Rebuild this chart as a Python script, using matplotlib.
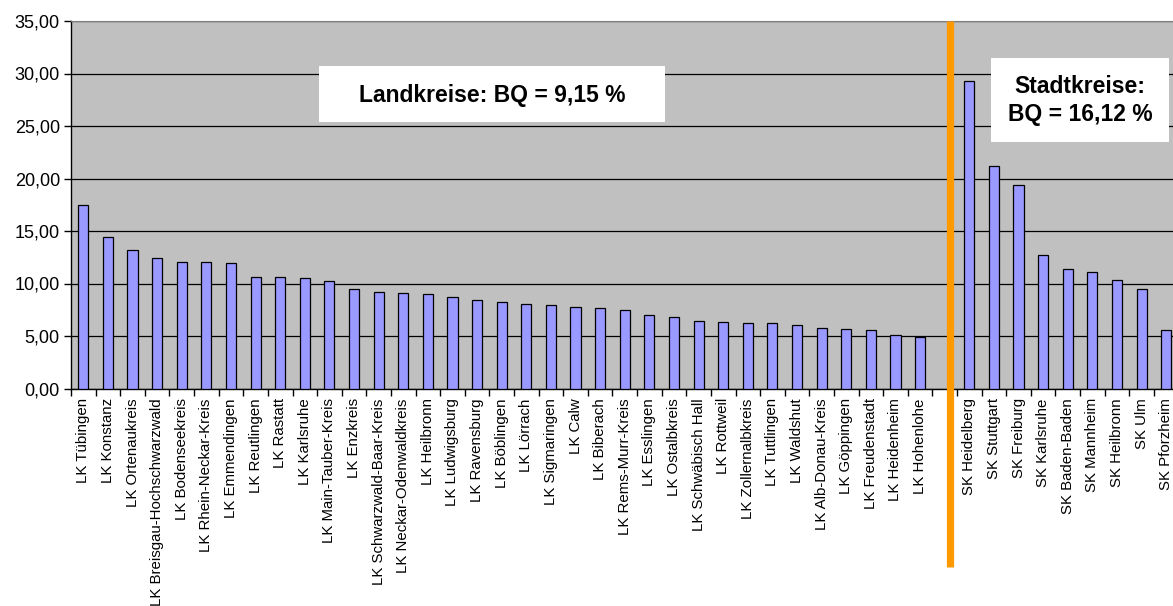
import numpy as np
import matplotlib
matplotlib.use("Agg")
from matplotlib import pyplot as plt
from matplotlib.patches import Rectangle
from matplotlib.ticker import FuncFormatter, FixedLocator

plt.rcParams['font.family'] = ['Liberation Sans', 'DejaVu Sans']

# Landkreise (LK) and Stadtkreise (SK), BQ in %
lk_names = ['LK Tübingen', 'LK Konstanz', 'LK Ortenaukreis', 'LK Breisgau-Hochschwarzwald',
            'LK Bodenseekreis', 'LK Rhein-Neckar-Kreis', 'LK Emmendingen', 'LK Reutlingen',
            'LK Rastatt', 'LK Karlsruhe', 'LK Main-Tauber-Kreis', 'LK Enzkreis',
            'LK Schwarzwald-Baar-Kreis', 'LK Neckar-Odenwaldkreis', 'LK Heilbronn',
            'LK Ludwigsburg', 'LK Ravensburg', 'LK Böblingen', 'LK Lörrach', 'LK Sigmaringen',
            'LK Calw', 'LK Biberach', 'LK Rems-Murr-Kreis', 'LK Esslingen', 'LK Ostalbkreis',
            'LK Schwäbisch Hall', 'LK Rottweil', 'LK Zollernalbkreis', 'LK Tuttlingen',
            'LK Waldshut', 'LK Alb-Donau-Kreis', 'LK Göppingen', 'LK Freudenstadt',
            'LK Heidenheim', 'LK Hohenlohe']
lk_values = [17.45, 14.46, 13.22, 12.46, 12.08, 12.02, 11.95, 10.62, 10.62, 10.49,
             10.24, 9.50, 9.22, 9.09, 9.03, 8.74, 8.43, 8.24, 8.05, 7.98,
             7.76, 7.63, 7.51, 6.97, 6.78, 6.43, 6.36, 6.24, 6.24, 6.08,
             5.73, 5.67, 5.60, 5.12, 4.88]

sk_names = ['SK Heidelberg', 'SK Stuttgart', 'SK Freiburg', 'SK Karlsruhe', 'SK Baden-Baden',
            'SK Mannheim', 'SK Heilbronn', 'SK Ulm', 'SK Pforzheim']
sk_values = [29.29, 21.22, 19.38, 12.71, 11.35, 11.10, 10.30, 9.50, 5.57]

lk_label = 'Landkreise: BQ = 9,15 %'
sk_label = 'Stadtkreise:\nBQ = 16,12 %'

W, H = 1173, 606
fig = plt.figure(figsize=(W / 100, H / 100), dpi=100)
# plot area runs a few pixels past the right edge, as in the original
ax = fig.add_axes([71 / W, (H - 388.5) / H, (1178.5 - 71) / W, (388.5 - 21) / H])
ax.set_facecolor('#C0C0C0')

x_lk = np.arange(len(lk_names))
x_sk = len(lk_names) + 1 + np.arange(len(sk_names))
n_slots = len(lk_names) + 1 + len(sk_names)

ax.bar(x_lk, lk_values, width=0.41, color='#9999FF', edgecolor='black', linewidth=0.9, zorder=3)
ax.bar(x_sk, sk_values, width=0.41, color='#9999FF', edgecolor='black', linewidth=0.9, zorder=3)

ax.set_xlim(-0.5, n_slots - 0.5)
ax.set_ylim(0, 35)
ax.set_yticks(np.arange(0, 36, 5))
ax.yaxis.set_major_formatter(FuncFormatter(lambda v, p: f'{v:.2f}'.replace('.', ',')))
ax.grid(axis='y', color='black', linewidth=0.9, zorder=1)
ax.tick_params(axis='y', labelsize=13, length=5, width=1, color='black', pad=3)

ax.set_xticks(list(x_lk) + list(x_sk))
ax.set_xticklabels(lk_names + sk_names, rotation=90, fontsize=10.8, va='top')
ax.tick_params(axis='x', which='major', length=0, pad=7)
ax.xaxis.set_minor_locator(FixedLocator(np.arange(-0.5, n_slots, 1.0)))
ax.tick_params(axis='x', which='minor', length=5, width=1, color='black')

for s in ['left', 'bottom']:
    ax.spines[s].set_color('black')
    ax.spines[s].set_linewidth(1)
ax.spines['top'].set_color('#808080')
ax.spines['right'].set_visible(False)

# separator between Landkreise and Stadtkreise
sep_x = len(lk_names) + 0.22
ax.plot([sep_x, sep_x], [-17, 35], color='#FF9900', linewidth=5.2, clip_on=False, zorder=5,
        solid_capstyle='butt')

# text boxes
ax.add_patch(Rectangle((9.58, 25.38), 14.06, 5.33, facecolor='white', edgecolor='none', zorder=4))
ax.text(16.61, 27.95, lk_label, ha='center', va='center', fontsize=16.5, fontweight='bold', zorder=6)
ax.add_patch(Rectangle((36.89, 23.48), 7.23, 8.0, facecolor='white', edgecolor='none', zorder=4))
ax.text(40.5, 27.4, sk_label, ha='center', va='center', fontsize=16.5, fontweight='bold',
        linespacing=1.3, zorder=6)

fig.savefig('out.png', dpi=100)
